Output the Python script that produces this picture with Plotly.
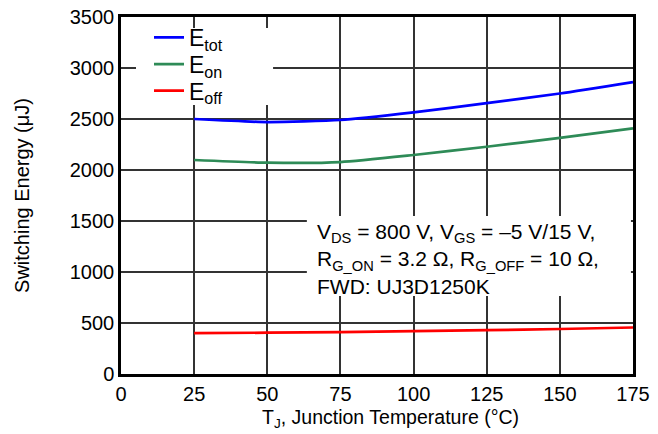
import plotly.graph_objects as go

temps = [25, 50, 75, 100, 125, 150, 175]
e_tot = [2500, 2470, 2490, 2565, 2655, 2750, 2862]
e_on = [2098, 2072, 2078, 2147, 2228, 2315, 2408]
e_off = [400, 405, 411, 420, 430, 441, 456]

names = ["E<sub>tot</sub>", "E<sub>on</sub>", "E<sub>off</sub>"]
colors = ["#0000FF", "#2E8B57", "#FF0000"]
legend_ids = ["legend", "legend2", "legend3"]
legend_y = [0.943, 0.868, 0.7936]

x_title = "T<sub>J</sub>, Junction Temperature (°C)"
y_title = "Switching Energy (μJ)"
cond_text = ("V<sub>DS</sub> = 800 V, V<sub>GS</sub> = –5 V/15 V,<br>"
             "R<sub>G_ON</sub> = 3.2 Ω, R<sub>G_OFF</sub> = 10 Ω,<br>"
             "FWD: UJ3D1250K")

fig = go.Figure()
for ys, nm, c, lg in zip([e_tot, e_on, e_off], names, colors, legend_ids):
    fig.add_trace(go.Scatter(x=temps, y=ys, name=nm, mode="lines", legend=lg,
                             line=dict(color=c, width=2.7, shape="spline", smoothing=0.6)))

font_fam = "Liberation Sans, Arial, sans-serif"
legend_common = dict(x=0.0547, xanchor="left", yanchor="middle", bgcolor="rgba(0,0,0,0)",
                     borderwidth=0, font=dict(size=23, color="black"), itemwidth=30)

fig.update_layout(
    width=658, height=434,
    margin=dict(l=113, r=33, t=9, b=68, autoexpand=False),
    paper_bgcolor="white", plot_bgcolor="white",
    font=dict(family=font_fam, size=20, color="black"),
    showlegend=True,
    legend=dict(y=legend_y[0], **legend_common),
    legend2=dict(y=legend_y[1], **legend_common),
    legend3=dict(y=legend_y[2], **legend_common),
    xaxis=dict(range=[0, 175], tickvals=[0, 25, 50, 75, 100, 125, 150, 175],
               showgrid=True, gridcolor="#333333", gridwidth=1.5,
               showline=True, linecolor="black", linewidth=2.5, mirror=True,
               zeroline=False, ticks="", tickfont=dict(size=20),
               ticklabeloverflow="allow"),
    yaxis=dict(range=[0, 3500], tickvals=[0, 500, 1000, 1500, 2000, 2500, 3000, 3500],
               showgrid=True, gridcolor="#333333", gridwidth=1.5,
               showline=True, linecolor="black", linewidth=2.5, mirror=True,
               zeroline=False, ticks="", tickfont=dict(size=20),
               ticklabeloverflow="allow",
               title=dict(text=y_title, font=dict(size=20), standoff=35)),
)

# white backing boxes behind legend and condition text (they hide the grid there)
fig.add_shape(type="rect", xref="paper", yref="paper", x0=0.0293, x1=0.297, y0=0.7535, y1=0.969,
              fillcolor="white", line=dict(width=0), layer="above")
fig.add_shape(type="rect", xref="paper", yref="paper", x0=0.363, x1=0.996, y0=0.2185, y1=0.4426,
              fillcolor="white", line=dict(width=0), layer="above")

fig.add_annotation(
    xref="paper", yref="paper", x=0.381, y=0.322, xanchor="left", yanchor="middle",
    text=cond_text, showarrow=False, align="left", borderpad=0,
    font=dict(size=21, color="black", family=font_fam),
)

fig.add_annotation(
    xref="paper", yref="paper", x=0.527, y=-0.126, xanchor="center", yanchor="middle",
    text=x_title, showarrow=False, font=dict(size=19.5, color="black", family=font_fam),
)

fig.write_html("out.html")
